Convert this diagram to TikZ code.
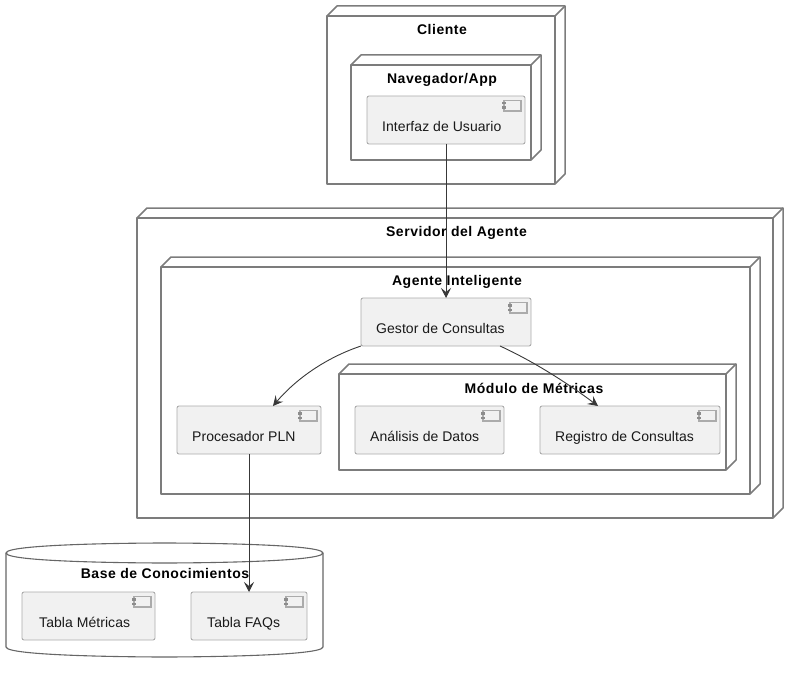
\documentclass[tikz,border=0pt]{standalone}
\usepackage{fontspec}
\setmainfont{Liberation Sans}
\newfontfamily\titlefont[LetterSpace=3.8]{Liberation Sans Bold}
\usetikzlibrary{arrows.meta}
\definecolor{boxfill}{HTML}{F1F1F1}
\definecolor{boxline}{HTML}{ABABAB}
\definecolor{nodeline}{HTML}{7C7C7C}
\definecolor{arrowline}{HTML}{383838}
\tikzset{
  nodebox/.style={inner sep=0pt, outer sep=0pt},
  depthline/.style={draw=nodeline, line width=1.5pt, line join=round},
  compbox/.style={draw=boxline, fill=boxfill, line width=0.9pt, rounded corners=2pt,
    minimum height=48pt, inner sep=0pt, outer sep=0pt},
  comptext/.style={anchor=west, xshift=15pt, yshift=-8pt, inner sep=0pt, text=black!90,
    text height=10pt, text depth=3pt, font=\fontsize{14}{16}\selectfont\addfontfeature{LetterSpace=0.4}},
  titletext/.style={anchor=base, yshift=-0.7pt, inner sep=0pt, font=\fontsize{14}{16}\selectfont\titlefont},
  conn/.style={draw=arrowline, line width=0.9pt, -{Stealth[length=10pt,width=10pt,inset=4pt]}},
}
% caja con profundidad
\newcommand{\nodedepth}[1]{
  \draw[depthline] (#1.north west) -- (#1.north east) -- (#1.south east) -- (#1.south west) -- cycle;
  \draw[depthline] (#1.north west) -- ++(10,-10) -- ([shift={(10,-10)}]#1.north east)
    -- ([shift={(10,-10)}]#1.south east) -- (#1.south east);
  \draw[depthline] (#1.north east) -- ++(10,-10);
}
\newcommand{\compicon}[1]{
  \draw[draw=boxline, fill=boxfill, line width=1.4pt] ([shift={(-21,4.5)}]#1.north east) rectangle ([shift={(-4,15)}]#1.north east);
  \fill[black!45] ([shift={(-23,6)}]#1.north east) rectangle ([shift={(-19.5,8.5)}]#1.north east);
  \fill[black!45] ([shift={(-23,10.5)}]#1.north east) rectangle ([shift={(-19.5,13)}]#1.north east);
}
\begin{document}
\begin{tikzpicture}[x=1pt, y=-1pt]
  \useasboundingbox (0,0) rectangle (801,674);

  % Cliente
  \node (cliente) [nodebox, minimum width=228pt, minimum height=168pt] at (441,100) {};
  \nodedepth{cliente}
  \node (clienteT) [titletext] at (442,34) {Cliente};
  \node (navegador) [nodebox, minimum width=180pt, minimum height=95pt] at (441,112.5) {};
  \nodedepth{navegador}
  \node (navegadorT) [titletext] at (442,83) {Navegador/App};
  \node (interfaz) [compbox, minimum width=158pt, label={[comptext]west:Interfaz de Usuario}] at (446,120) {};
  \compicon{interfaz}

  % Servidor
  \node (servidor) [nodebox, minimum width=636pt, minimum height=300pt] at (455,368) {};
  \nodedepth{servidor}
  \node (servidorT) [titletext] at (456.5,236) {Servidor del Agente};
  \node (agente) [nodebox, minimum width=589pt, minimum height=227pt] at (455.5,380.5) {};
  \nodedepth{agente}
  \node (agenteT) [titletext] at (457,285) {Agente Inteligente};
  \node (gestor) [compbox, minimum width=170pt, label={[comptext]west:Gestor de Consultas}] at (446,322) {};
  \compicon{gestor}
  \node (procesador) [compbox, minimum width=144pt, label={[comptext]west:Procesador PLN}] at (249,430) {};
  \compicon{procesador}
  \node (modulo) [nodebox, minimum width=387pt, minimum height=96pt] at (532.5,422) {};
  \nodedepth{modulo}
  \node (moduloT) [titletext] at (534,393) {Módulo de Métricas};
  \node (analisis) [compbox, minimum width=149pt, label={[comptext]west:Análisis de Datos}] at (429.5,430) {};
  \compicon{analisis}
  \node (registro) [compbox, minimum width=180pt, label={[comptext]west:Registro de Consultas}] at (630,430) {};
  \compicon{registro}

  % Base de datos
  \draw[depthline, draw=black!60, line width=1.1pt] (6,553) .. controls (6,543) and (164.5,543) .. (164.5,543)
    .. controls (164.5,543) and (323,543) .. (323,553) -- (323,647)
    .. controls (323,657) and (164.5,657) .. (164.5,657)
    .. controls (164.5,657) and (6,657) .. (6,647) -- cycle;
  \draw[depthline, draw=black!60, line width=1.1pt] (6,553) .. controls (6,563) and (164.5,563) .. (164.5,563)
    .. controls (164.5,563) and (323,563) .. (323,553);
  \node (baseT) [titletext] at (165,578) {Base de Conocimientos};
  \node (metricas) [compbox, minimum width=133pt, label={[comptext, xshift=2pt]west:Tabla Métricas}] at (88.5,616) {};
  \compicon{metricas}
  \node (faqs) [compbox, minimum width=116pt, label={[comptext, xshift=1pt]west:Tabla FAQs}] at (249,616) {};
  \compicon{faqs}

  % conexiones
  \draw[conn] (interfaz.south) -- (gestor.north);
  \draw[conn] (gestor.south west) .. controls (325,358) and (295,380) .. ([xshift=24pt]procesador.north);
  \draw[conn] ([xshift=54pt]gestor.south) .. controls (535,362) and (570,385) .. ([xshift=-32pt]registro.north);
  \draw[conn] (procesador.south) -- (faqs.north);
\end{tikzpicture}
\end{document}
